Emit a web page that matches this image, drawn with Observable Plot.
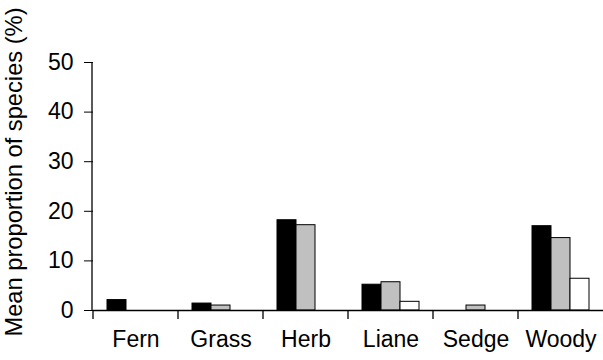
<!DOCTYPE html>
<html>
<head>
<meta charset="utf-8">
<script src="https://cdn.jsdelivr.net/npm/d3@7"></script>
<script src="https://cdn.jsdelivr.net/npm/@observablehq/plot@0.6"></script>
<style>
  html, body { margin: 0; padding: 0; background: #fff; }
  svg { display: block; }
</style>
</head>
<body>
<div id="chart"></div>
<script>
const categories = ["Fern", "Grass", "Herb", "Liane", "Sedge", "Woody"];
const series = ["Series 1", "Series 2", "Series 3"];
const series1 = [2.1, 1.4, 18.2, 5.2, 0, 17.0];
const series2 = [0, 1.0, 17.2, 5.7, 1.0, 14.6];
const series3 = [0, 0, 0, 1.75, 0, 6.4];
const yTicks = [0, 10, 20, 30, 40, 50];
const yLabel = "Mean proportion of species (%)";
const colors = ["#000000", "#c0c0c0", "#ffffff"];

const allSeries = [series1, series2, series3];
const data = categories.flatMap((c, i) =>
  series.map((s, j) => ({category: c, series: s, value: allSeries[j][i]}))
).filter(d => d.value > 0);

const font = "'Liberation Sans', Arial, sans-serif";
const fs = 23;

const chart = Plot.plot({
  width: 603,
  height: 360,
  marginLeft: 92,
  marginRight: 0,
  marginTop: 62,
  marginBottom: 50,
  style: {fontFamily: font, fontSize: fs + "px", color: "#000", background: "#fff"},
  fx: {domain: categories, padding: 0, label: null},
  x: {domain: series, paddingInner: 0, paddingOuter: 0.65, axis: null},
  y: {domain: [0, 50], label: null},
  color: {domain: series, range: colors},
  marks: [
    Plot.axisY({ticks: yTicks, tickSize: 9, tickPadding: 11, label: null, stroke: "#000", strokeOpacity: 1}),
    Plot.axisFx({anchor: "bottom", tickSize: 0, tickPadding: 20, label: null}),
    Plot.barY(data, {fx: "category", x: "series", y: "value", fill: "series", stroke: "#000", strokeWidth: 1}),
    Plot.ruleY([0], {stroke: "#000", strokeWidth: 1.3})
  ]
});

// axis line and category separator ticks from the library's scales
const svg = d3.select(chart.tagName === "svg" ? chart : chart.querySelector("svg"));
const fxs = chart.scale("fx");
const ys = chart.scale("y");
const n = fxs.domain.length;
const r0 = fxs.range[0], r1 = fxs.range[1];
const step = (r1 - r0) / n;
const bandStart = c => fxs.apply ? fxs.apply(c) : r0 + fxs.domain.indexOf(c) * step;
const yPos = v => ys.apply ? ys.apply(v) : ys.range[0] + (v - ys.domain[0]) / (ys.domain[1] - ys.domain[0]) * (ys.range[1] - ys.range[0]);
const y0 = yPos(0), yTop = yPos(yTicks[yTicks.length - 1]);
const g = svg.append("g").attr("stroke", "#000").attr("stroke-width", 1.3);
g.append("line").attr("x1", r0).attr("x2", r0).attr("y1", yTop).attr("y2", y0);
fxs.domain.forEach(c => {
  const x = bandStart(c);
  g.append("line").attr("x1", x).attr("x2", x).attr("y1", y0).attr("y2", y0 + 9);
});
svg.append("text")
  .attr("transform", `translate(22,172) rotate(-90)`)
  .attr("text-anchor", "middle")
  .attr("font-family", font)
  .attr("font-size", 23.7)
  .attr("fill", "#000")
  .text(yLabel);

document.getElementById("chart").appendChild(chart);
</script>
</body>
</html>
